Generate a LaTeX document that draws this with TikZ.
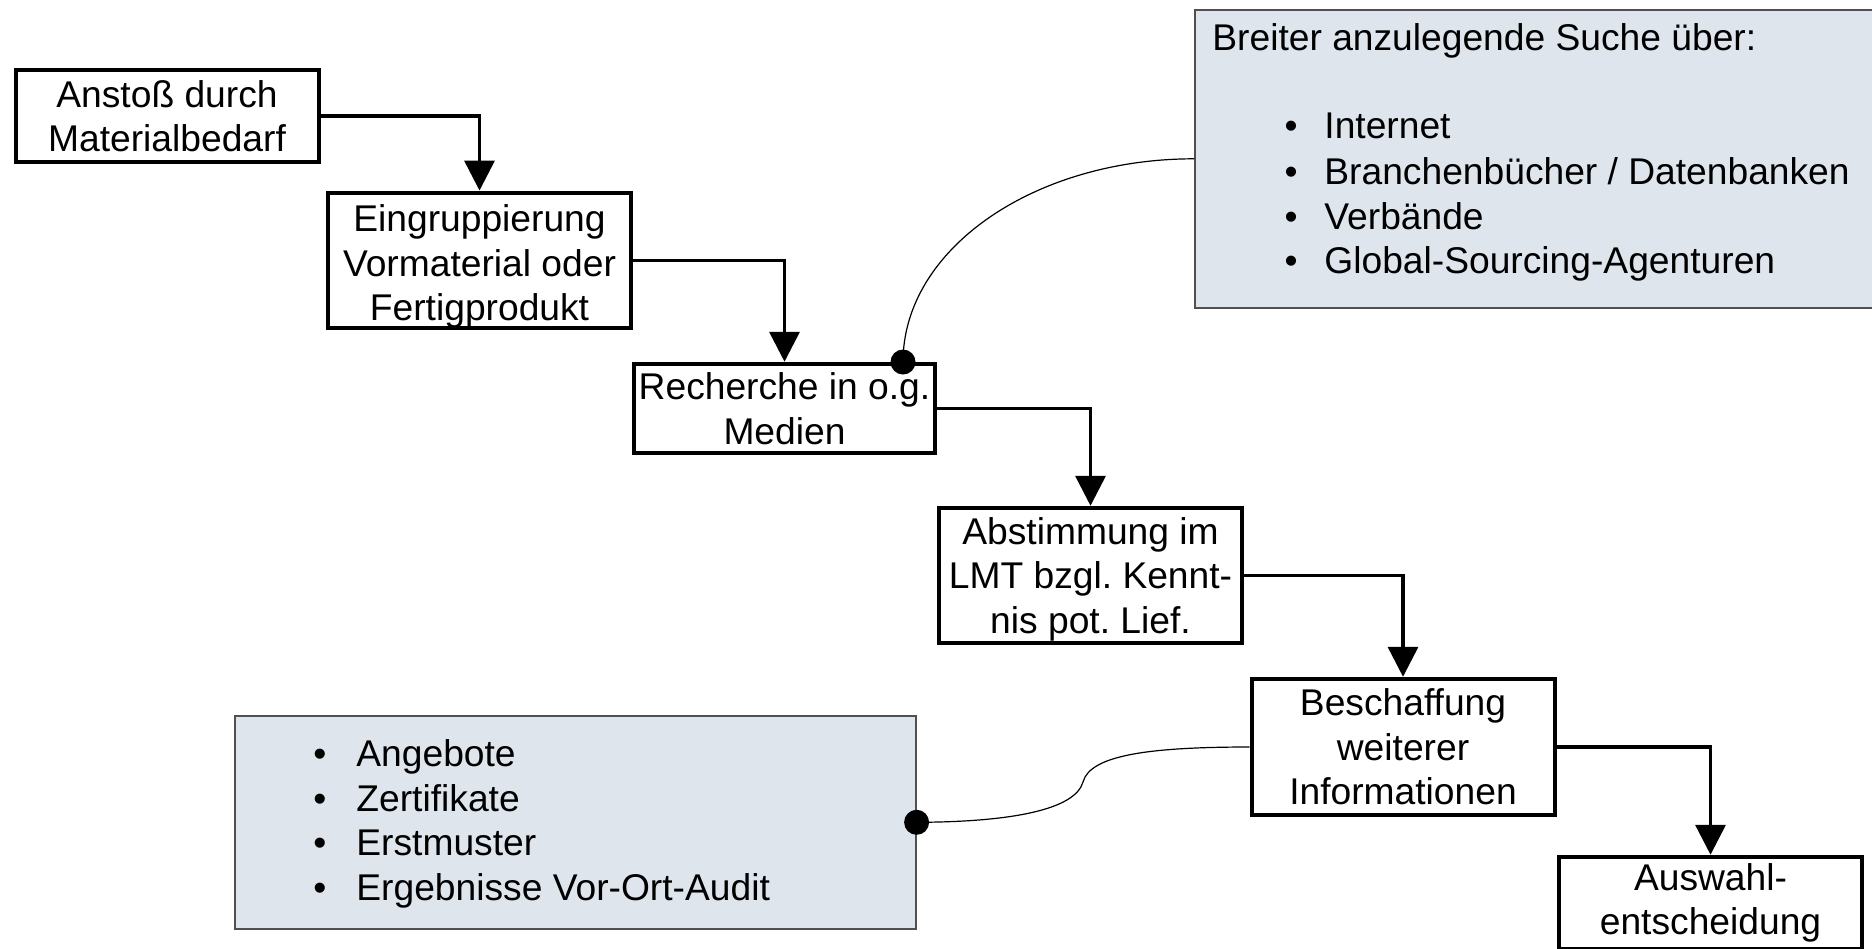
\documentclass[tikz,border=0pt]{standalone}
\usepackage{fontspec}
\setmainfont{Liberation Sans}
\usetikzlibrary{arrows.meta}
\definecolor{panelfill}{RGB}{222,229,236}
\definecolor{panelline}{RGB}{80,80,80}
\newcommand\lblfont{\fontsize{18.6pt}{22.3pt}\selectfont}
\frenchspacing

\begin{document}
\begin{tikzpicture}[x=0.5pt,y=-0.5pt,
  stepbox/.style={draw, line width=2pt, fill=white, align=center,
    inner sep=0pt, font=\lblfont, minimum width=151.5pt},
  flow/.style={line width=1.75pt, -{Triangle[length=15pt,width=15pt]}},
  panel/.style={draw=panelline, line width=0.8pt, fill=panelfill,
    inner sep=0pt, anchor=north west},
  txt/.style={font=\lblfont, inner sep=0pt, anchor=base west},
  bul/.style={font=\lblfont, inner sep=0pt, anchor=base},
  link/.style={line width=0.6pt},
  dotmark/.style={circle, fill=black, inner sep=0pt, minimum size=12.5pt}
]
\useasboundingbox (0,0) rectangle (1872,948);
\clip (0,0) rectangle (1872,948);

% process steps
\node[stepbox, minimum height=46.25pt] (B1) at (167,116)
  {Anstoß durch\\Materialbedarf};
\node[stepbox, minimum height=67.75pt] (B2) at (479.5,260.5)
  {\rule{0pt}{19.5pt}Eingruppierung\\Vormaterial oder\\Fertigprodukt};
\node[stepbox, minimum height=44.75pt, minimum width=150.75pt] (B3) at (784.5,408.5)
  {Recherche in o.g.\\Medien};
\node[stepbox, minimum height=67.75pt] (B4) at (1090.5,575.5)
  {\rule{0pt}{17pt}Abstimmung im\\LMT bzgl. Kennt-\\nis pot. Lief.};
\node[stepbox, minimum height=68.25pt] (B5) at (1403,747)
  {Beschaffung\\weiterer\\Informationen};
\node[stepbox, minimum height=46.25pt] (B6) at (1710.5,903)
  {Auswahl-\\entscheidung};

% flow arrows
\draw[flow] (B1.east) -| (B2.north);
\draw[flow] (B2.east) -| (B3.north);
\draw[flow] (B3.east) -| (B4.north);
\draw[flow] (B4.east) -| (B5.north);
\draw[flow] (B5.east) -| (B6.north);

% upper annotation panel
\node[panel, minimum width=353pt, minimum height=149pt] (G1) at (1194,9) {};
\node[txt] (h1) at (1212,50) {Breiter anzulegende Suche über:};
\foreach \yy/\lbl [count=\i] in {138/{Internet}, 184/{Branchenbücher / Datenbanken},
    229/{Verbände}, 273/{Global-Sourcing-Agenturen}}{
  \node[bul] (ub\i) at (1291,\yy) {•};
  \node[txt] (ut\i) at (1324,\yy) {\lbl};
}

% lower annotation panel
\node[panel, minimum width=340.5pt, minimum height=106.5pt] (G2) at (234,715) {};
\foreach \yy/\lbl [count=\i] in {766/{Angebote}, 811/{Zertifikate},
    855/{Erstmuster}, 900/{Ergebnisse Vor-Ort-Audit}}{
  \node[bul] (lb\i) at (320,\yy) {•};
  \node[txt] (lt\i) at (356,\yy) {\lbl};
}

% annotation links
\coordinate (p1) at (903,362);
\draw[link] (G1.west) .. controls +(-160,0) and +(0,-113) .. (p1);
\node[dotmark] (dot1) at (p1) {};

\coordinate (m2) at (1083,782);
\draw[link] (G2.east) .. controls (1010,822) and (1075,810) .. (m2)
  .. controls (1090,755) and (1150,747) .. (B5.west);
\node[dotmark] (dot2) at (G2.east) {};
\end{tikzpicture}
\end{document}
